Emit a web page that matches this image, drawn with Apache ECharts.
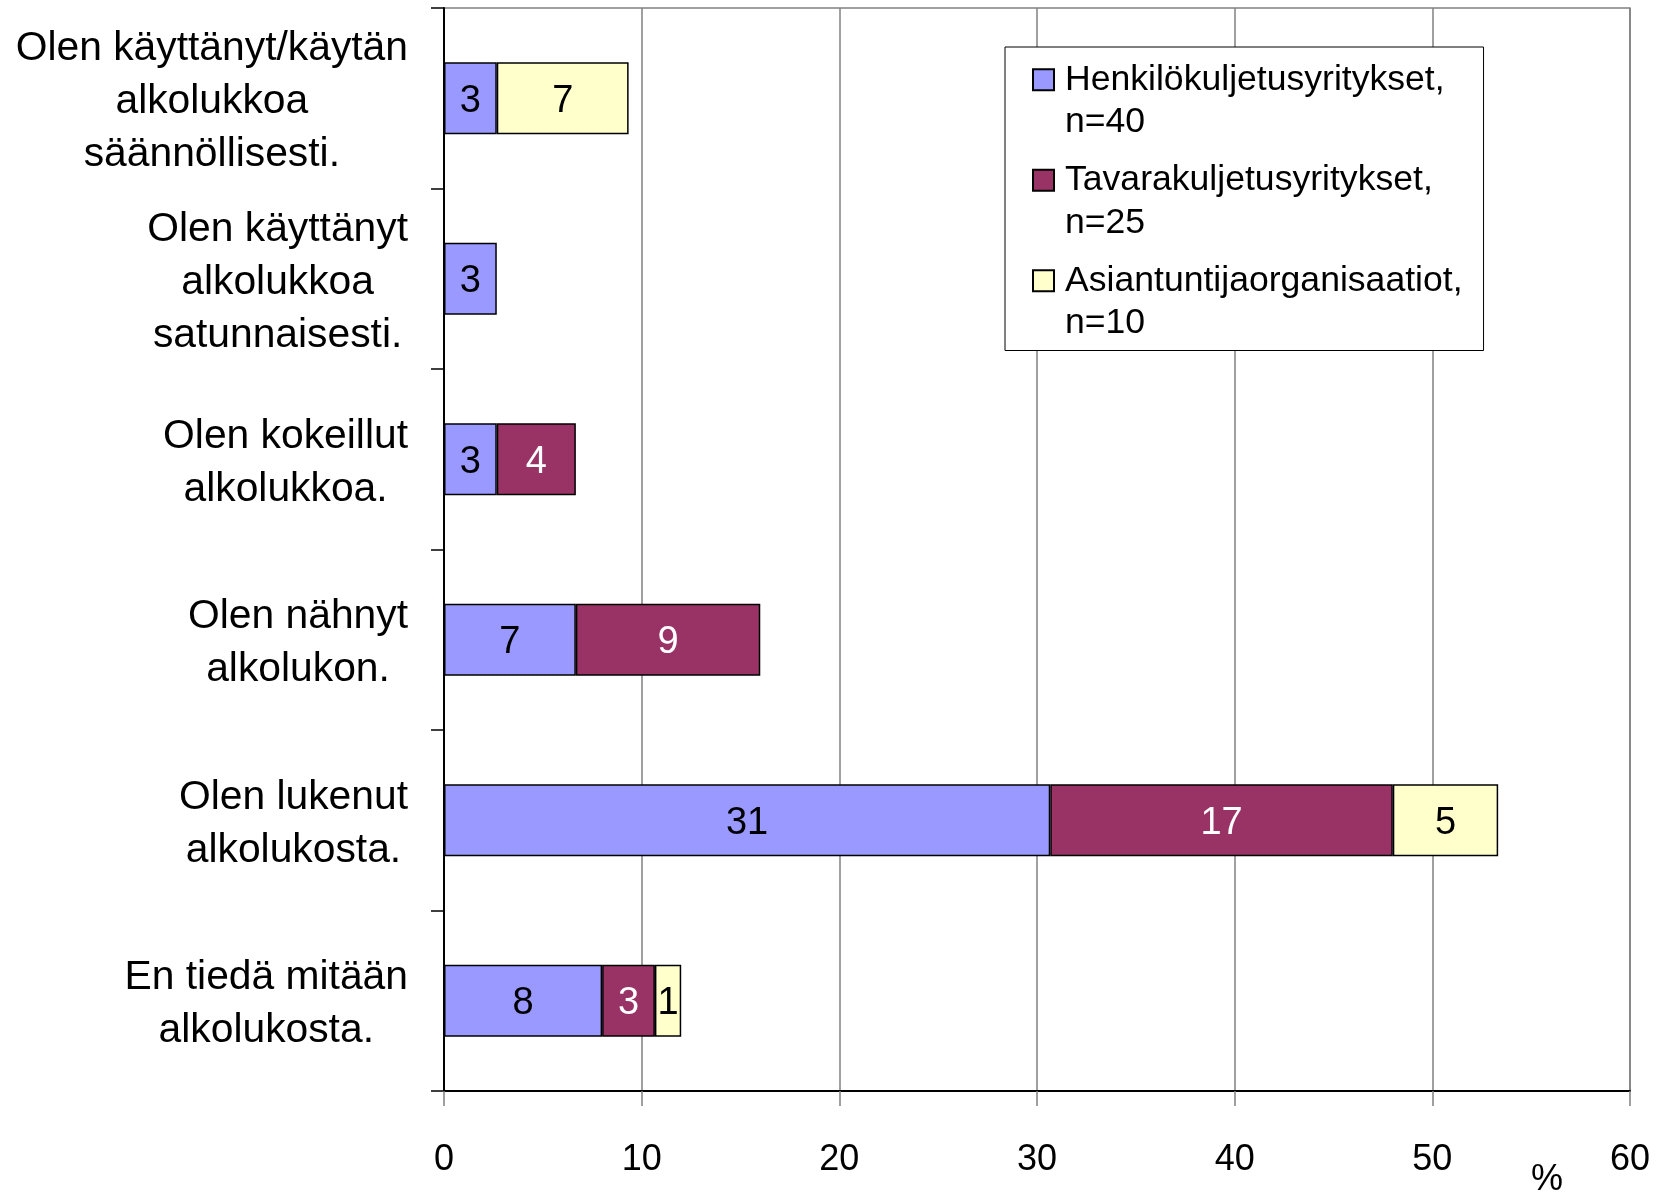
<!DOCTYPE html>
<html>
<head>
<meta charset="utf-8">
<script src="https://cdn.jsdelivr.net/npm/echarts@6/dist/echarts.min.js"></script>
<style>
html,body{margin:0;padding:0;background:#fff;}
#chart{width:1668px;height:1193px;}
</style>
</head>
<body>
<div id="chart"></div>
<script>
const categories = [
  "Olen käyttänyt/käytän\nalkolukkoa\nsäännöllisesti.",
  "Olen käyttänyt\nalkolukkoa\nsatunnaisesti.",
  "Olen kokeillut\nalkolukkoa.",
  "Olen nähnyt\nalkolukon.",
  "Olen lukenut\nalkolukosta.",
  "En tiedä mitään\nalkolukosta."
];
const seriesNames = [
  "Henkilökuljetusyritykset, n=40",
  "Tavarakuljetusyritykset, n=25",
  "Asiantuntijaorganisaatiot, n=10"
];
const henkilo = [2.67, 2.67, 2.67, 6.67, 30.67, 8.0];
const tavara = [null, null, 4.0, 9.33, 17.33, 2.67];
const asiantuntija = [6.67, null, null, null, 5.33, 1.33];
const xTicks = [0, 10, 20, 30, 40, 50, 60];
const unitLabel = "%";

const colors = ['#9999FF', '#993366', '#FFFFCC'];
const labelColors = ['#000', '#fff', '#000'];
const FONT = '"Liberation Sans", Arial, sans-serif';

const chart = echarts.init(document.getElementById('chart'), null, {renderer: 'canvas'});

const legendIcon = 'path://M0,0 M0,10.75 L21,10.75 L21,31.75 L0,31.75 Z M27,85';

function mkSeries(i, data) {
  return {
    name: seriesNames[i],
    type: 'bar',
    stack: 'total',
    barWidth: 72,
    data: data,
    itemStyle: {color: colors[i], borderColor: '#000', borderWidth: 1.5},
    label: {
      show: true,
      position: 'inside',
      offset: [0, 3],
      color: labelColors[i],
      fontFamily: FONT,
      fontSize: 38,
      formatter: p => (p.value == null || p.value === 0) ? '' : String(Math.round(p.value))
    },
    emphasis: {disabled: true},
    animation: false
  };
}

const option = {
  animation: false,
  backgroundColor: '#fff',
  grid: {
    left: 444, right: 38, top: 8, bottom: 102,
    show: true, borderColor: '#808080', borderWidth: 1.5, backgroundColor: 'transparent',
    containLabel: false
  },
  legend: {
    orient: 'vertical',
    left: 1005, top: 47,
    padding: [10.5, 21, 5, 27],
    itemGap: 13.5,
    itemWidth: 27, itemHeight: 85,
    icon: legendIcon,
    backgroundColor: '#fff',
    borderColor: '#000', borderWidth: 1,
    selectedMode: false,
    textStyle: {fontFamily: FONT, fontSize: 35.6, lineHeight: 42.5, color: '#000'},
    formatter: n => n.replace(', ', ',\n'),
    data: seriesNames
  },
  xAxis: {
    type: 'value',
    min: 0, max: 60, interval: 10,
    axisLine: {show: true, lineStyle: {color: '#000', width: 2}},
    axisTick: {show: true, length: 15, lineStyle: {color: '#808080', width: 1.5}},
    splitLine: {show: true, lineStyle: {color: '#808080', width: 1.5}},
    axisLabel: {
      fontFamily: FONT, fontSize: 36, color: '#000', margin: 51,
      formatter: v => xTicks.indexOf(v) >= 0 ? String(v) : ''
    }
  },
  yAxis: {
    type: 'category',
    inverse: true,
    data: categories,
    axisLine: {show: true, lineStyle: {color: '#000', width: 2}},
    axisTick: {show: true, length: 13, alignWithLabel: false, lineStyle: {color: '#000', width: 1.5}},
    splitLine: {show: false},
    axisLabel: {
      margin: 36,
      padding: [7, 0, 0, 0],
      formatter: v => v.split('\n').map(l => '{c|' + l + '}').join('\n'),
      rich: {
        c: {fontFamily: FONT, fontSize: 40.8, lineHeight: 53, color: '#000', align: 'center'}
      }
    }
  },
  series: [
    mkSeries(0, henkilo),
    mkSeries(1, tavara),
    mkSeries(2, asiantuntija)
  ],
  graphic: [{
    type: 'text',
    left: 1531, top: 1162,
    style: {text: unitLabel, font: '36px ' + FONT, fill: '#000'}
  }]
};
chart.setOption(option);
</script>
</body>
</html>
